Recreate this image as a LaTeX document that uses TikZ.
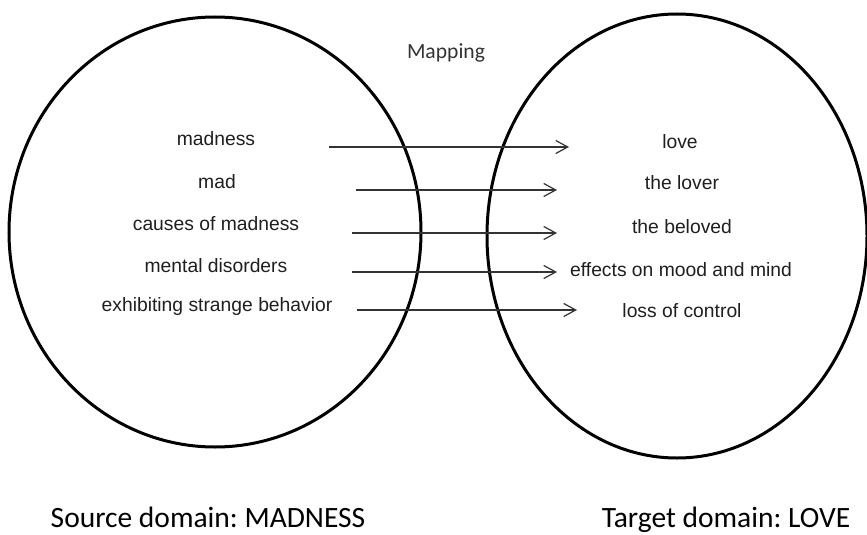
\documentclass[tikz,border=0pt]{standalone}
\usepackage{fontspec}
\usetikzlibrary{arrows.meta}
\newfontfamily\itemfont{Liberation Sans}
\newfontfamily\headfont{Carlito}
\frenchspacing
\begin{document}
\begin{tikzpicture}[x=1pt,y=-1pt,
  domainring/.style={line width=3pt,draw=black},
  item/.style={font=\itemfont\fontsize{19.3}{22}\selectfont,text=black!88,inner sep=0pt,anchor=center},
  maparrow/.style={line width=1.2pt,draw=black!80,-{Straight Barb[length=12pt,width=13pt,line width=1.2pt]}},
  caption/.style={font=\headfont\fontsize{29.5}{34}\selectfont,text=black,inner sep=0pt,anchor=base}]
  \useasboundingbox (0,0) rectangle (867,535);
  \clip (0,0) rectangle (867,535);
  \fill[white] (0,0) rectangle (867,535);

  % the two domains
  \draw[domainring] (215,232) ellipse [x radius=206,y radius=215];
  \draw[domainring] (677,236) ellipse [x radius=190,y radius=222];

  \node[font=\headfont\fontsize{21.6}{25}\selectfont,text=black!80,inner sep=0pt] (map) at (446,53) {Mapping};

  % source concepts
  \node[item] (s1) at (216,139) {madness};
  \node[item] (s2) at (217,182) {mad};
  \node[item] (s3) at (216,224) {causes of madness};
  \node[item] (s4) at (216,266) {mental disorders};
  \node[item] (s5) at (217,307) {exhibiting strange behavior};

  % target concepts
  \node[item] (t1) at (680,142) {love};
  \node[item] (t2) at (682,183) {the lover};
  \node[item] (t3) at (682,227) {the beloved};
  \node[item] (t4) at (681,270) {effects on mood and mind};
  \node[item] (t5) at (682,311) {loss of control};

  % correspondences
  \coordinate (a1s) at (329,147); \coordinate (a1e) at (569,147);
  \coordinate (a2s) at (356,190); \coordinate (a2e) at (557,190);
  \coordinate (a3s) at (352,233); \coordinate (a3e) at (557,233);
  \coordinate (a4s) at (352,272); \coordinate (a4e) at (557,272);
  \coordinate (a5s) at (357,310); \coordinate (a5e) at (577,310);
  \draw[maparrow] (a1s) -- (a1e);
  \draw[maparrow] (a2s) -- (a2e);
  \draw[maparrow] (a3s) -- (a3e);
  \draw[maparrow] (a4s) -- (a4e);
  \draw[maparrow] (a5s) -- (a5e);

  % domain names
  \node[caption] (src) at (208,527.5) {Source domain: MADNESS};
  \node[caption] (tgt) at (726,527.5) {Target domain: LOVE};
\end{tikzpicture}
\end{document}
